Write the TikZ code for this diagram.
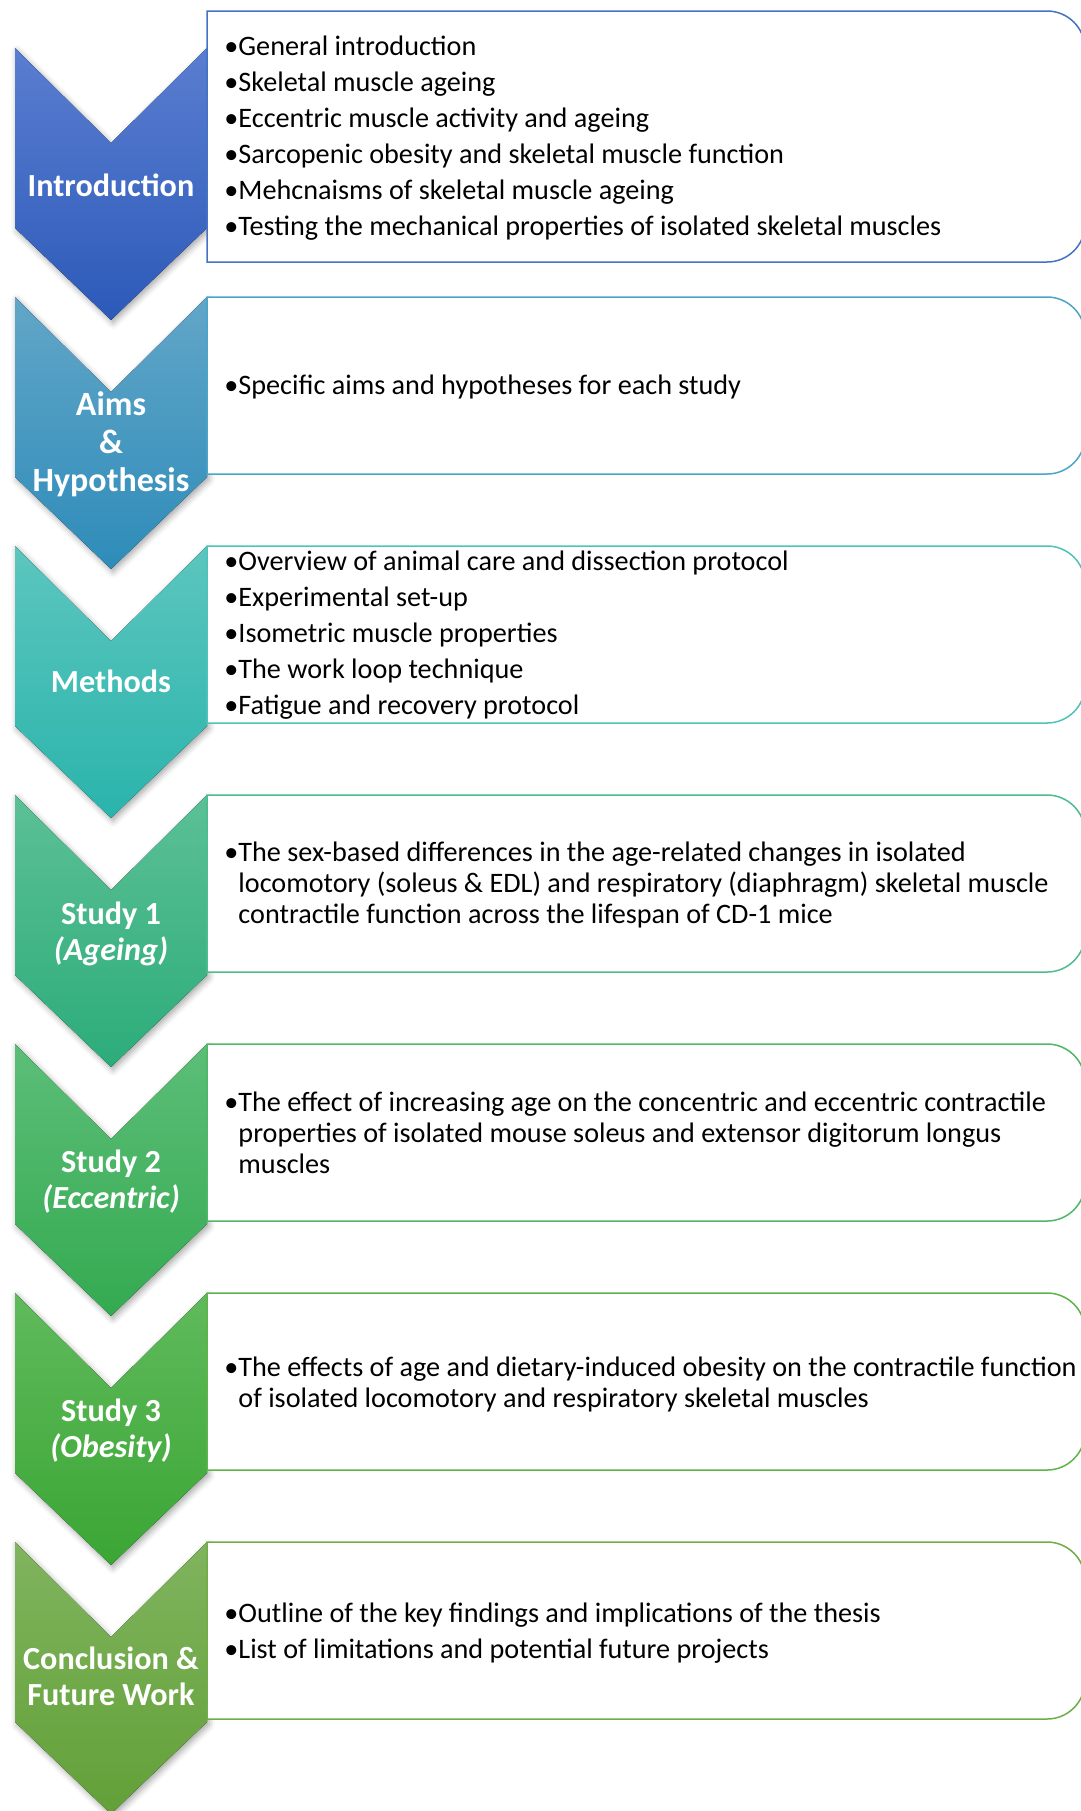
\documentclass[tikz,border=0pt]{standalone}
\usepackage{fontspec}
\setmainfont{Carlito}
\usetikzlibrary{shadows.blur}

\definecolor{c1t}{HTML}{5A7ED0}
\definecolor{c1b}{HTML}{2C5AB9}
\definecolor{c2t}{HTML}{62A6C8}
\definecolor{c2b}{HTML}{2E8CB9}
\definecolor{c3t}{HTML}{5CC6BE}
\definecolor{c3b}{HTML}{2AB4AC}
\definecolor{c4t}{HTML}{5CC096}
\definecolor{c4b}{HTML}{2CAC7A}
\definecolor{c5t}{HTML}{5CBE78}
\definecolor{c5b}{HTML}{34AA50}
\definecolor{c6t}{HTML}{60BA5C}
\definecolor{c6b}{HTML}{3AA634}
\definecolor{c7t}{HTML}{80B45E}
\definecolor{c7b}{HTML}{62A038}
\definecolor{c1l}{HTML}{4472C4}
\definecolor{c2l}{HTML}{4BA5C8}
\definecolor{c3l}{HTML}{4EC3BA}
\definecolor{c4l}{HTML}{4CBD8E}
\definecolor{c5l}{HTML}{4DB866}
\definecolor{c6l}{HTML}{5CB44A}
\definecolor{c7l}{HTML}{70AD47}

% indent for wrapped lines of a bullet point
\newcommand{\cont}{\hphantom{\textbullet}}

\begin{document}
\begin{tikzpicture}[x=0.5pt,y=-0.5pt,
    chev/.style={top color=#1t,bottom color=#1b,draw=none,
      blur shadow={shadow xshift=1pt,shadow yshift=-1.5pt,shadow blur radius=3pt,shadow opacity=35}},
    box/.style={draw=#1l,line width=0.75pt,fill=white},
    label node/.style={text=white,align=center,inner sep=0pt,
      font=\fontsize{16.1}{18}\selectfont\bfseries},
    txt/.style={anchor=west,align=left,inner sep=0pt,
      font=\fontsize{14.1}{15.5}\selectfont}]
    \useasboundingbox (0,0) rectangle (1081,1811);
    \clip (0,0) rectangle (1081,1811);

    % chevrons
    \fill[chev=c1] (15,48) -- (111,143) -- (207,48) -- (207,228) -- (111,320) -- (15,228) -- cycle;
    \fill[chev=c2] (15,297) -- (111,392) -- (207,297) -- (207,477) -- (111,569) -- (15,477) -- cycle;
    \fill[chev=c3] (15,546) -- (111,641) -- (207,546) -- (207,726) -- (111,818) -- (15,726) -- cycle;
    \fill[chev=c4] (15,795) -- (111,890) -- (207,795) -- (207,975) -- (111,1067) -- (15,975) -- cycle;
    \fill[chev=c5] (15,1044) -- (111,1139) -- (207,1044) -- (207,1224) -- (111,1316) -- (15,1224) -- cycle;
    \fill[chev=c6] (15,1293) -- (111,1388) -- (207,1293) -- (207,1473) -- (111,1565) -- (15,1473) -- cycle;
    \fill[chev=c7] (15,1542) -- (111,1637) -- (207,1542) -- (207,1722) -- (111,1814) -- (15,1722) -- cycle;

    % text boxes, rounded on the right only
    \draw[box=c1] (207,11) -- (1047,11) arc[start angle=-90,end angle=0,radius=38]
      -- (1085,224) arc[start angle=0,end angle=90,radius=38] -- (207,262) -- cycle;
    \draw[box=c2] (207,297) -- (1047,297) arc[start angle=-90,end angle=0,radius=38]
      -- (1085,436) arc[start angle=0,end angle=90,radius=38] -- (207,474) -- cycle;
    \draw[box=c3] (207,546) -- (1047,546) arc[start angle=-90,end angle=0,radius=38]
      -- (1085,685) arc[start angle=0,end angle=90,radius=38] -- (207,723) -- cycle;
    \draw[box=c4] (207,795) -- (1047,795) arc[start angle=-90,end angle=0,radius=38]
      -- (1085,934) arc[start angle=0,end angle=90,radius=38] -- (207,972) -- cycle;
    \draw[box=c5] (207,1044) -- (1047,1044) arc[start angle=-90,end angle=0,radius=38]
      -- (1085,1183) arc[start angle=0,end angle=90,radius=38] -- (207,1221) -- cycle;
    \draw[box=c6] (207,1293) -- (1047,1293) arc[start angle=-90,end angle=0,radius=38]
      -- (1085,1432) arc[start angle=0,end angle=90,radius=38] -- (207,1470) -- cycle;
    \draw[box=c7] (207,1542) -- (1047,1542) arc[start angle=-90,end angle=0,radius=38]
      -- (1085,1681) arc[start angle=0,end angle=90,radius=38] -- (207,1719) -- cycle;

    % chapter labels
    \node[label node] (1) at (111,185) {Introduction};
    \node[label node,font=\fontsize{17}{19}\selectfont\bfseries] (2) at (111,444) {Aims\\\&\\Hypothesis};
    \node[label node] (3) at (111,681) {Methods};
    \node[label node] (4) at (111,934) {Study 1\\\textit{(Ageing)}};
    \node[label node] (5) at (111,1182) {Study 2\\\textit{(Eccentric)}};
    \node[label node] (6) at (111,1431) {Study 3\\\textit{(Obesity)}};
    \node[label node] (7) at (111,1676) {Conclusion \&\\Future Work};

    % chapter contents
    \node[txt] (t1) at (224,138) {\textbullet General introduction\\[2.5pt]
      \textbullet Skeletal muscle ageing\\[2.5pt]
      \textbullet Eccentric muscle activity and ageing\\[2.5pt]
      \textbullet Sarcopenic obesity and skeletal muscle function\\[2.5pt]
      \textbullet Mehcnaisms of skeletal muscle ageing\\[2.5pt]
      \textbullet Testing the mechanical properties of isolated skeletal muscles};
    \node[txt] (t2) at (224,387) {\textbullet Specific aims and hypotheses for each study};
    \node[txt] (t3) at (224,635) {\textbullet Overview of animal care and dissection protocol\\[2.5pt]
      \textbullet Experimental set-up\\[2.5pt]
      \textbullet Isometric muscle properties\\[2.5pt]
      \textbullet The work loop technique\\[2.5pt]
      \textbullet Fatigue and recovery protocol};
    \node[txt] (t4) at (224,885) {\textbullet The sex-based differences in the age-related changes in isolated\\
      \cont locomotory (soleus \& EDL) and respiratory (diaphragm) skeletal muscle\\
      \cont contractile function across the lifespan of CD-1 mice};
    \node[txt] (t5) at (224,1133) {\textbullet The effect of increasing age on the concentric and eccentric contractile\\
      \cont properties of isolated mouse soleus and extensor digitorum longus\\
      \cont muscles};
    \node[txt] (t6) at (224,1384) {\textbullet The effects of age and dietary-induced obesity on the contractile function\\
      \cont of isolated locomotory and respiratory skeletal muscles};
    \node[txt] (t7) at (224,1633) {\textbullet Outline of the key findings and implications of the thesis\\[2.5pt]
      \textbullet List of limitations and potential future projects};
\end{tikzpicture}
\end{document}
